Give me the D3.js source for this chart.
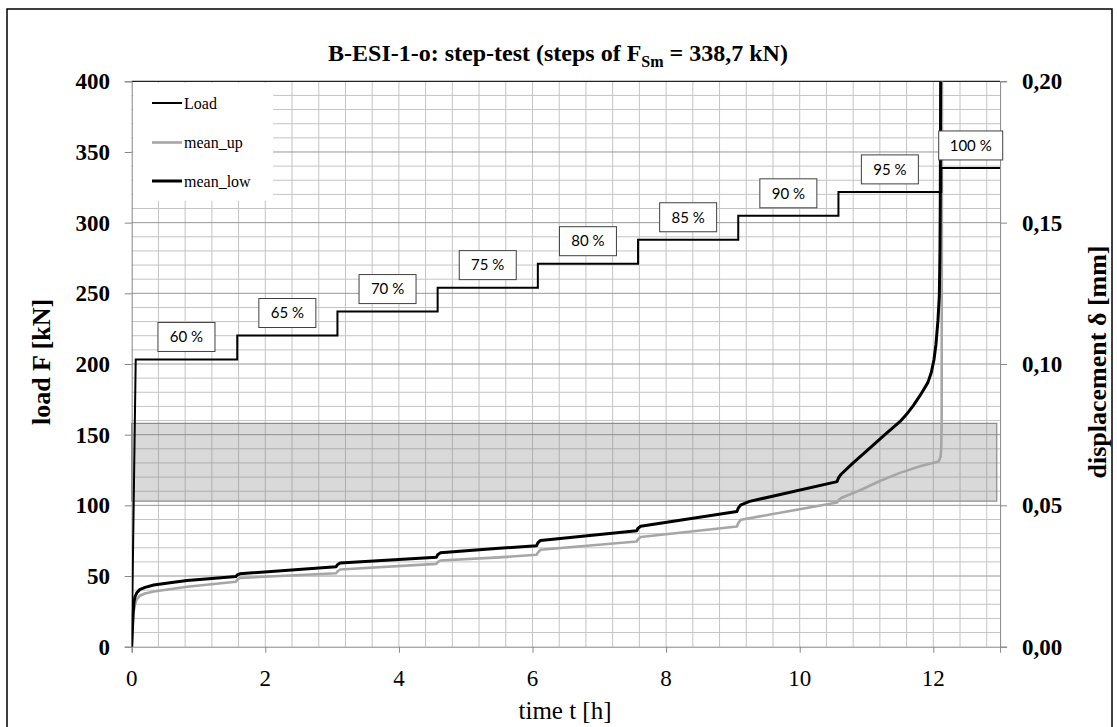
<!DOCTYPE html>
<html>
<head>
<meta charset="utf-8">
<script src="https://cdn.jsdelivr.net/npm/d3@7"></script>
<style>
body { margin: 0; background: #fff; }
svg { display: block; }
</style>
</head>
<body>
<svg id="chart" width="1117" height="727"></svg>
<script>
// load steps in % of F_Sm, and the time [h] at which each step starts
var FSm = 338.7;
var stepPercent = [60, 65, 70, 75, 80, 85, 90, 95, 100];
var stepStart = [0.06, 1.58, 3.08, 4.58, 6.08, 7.58, 9.08, 10.58, 12.12];

// displacement mean_low [mm] over time [h]
var lowTime = [0, 0.01, 0.02, 0.035, 0.05, 0.08, 0.12, 0.20, 0.33, 0.60, 0.83, 1.20, 1.56, 1.58, 1.62,
    3.06, 3.08, 3.12, 4.56, 4.58, 4.62, 5.50, 6.06, 6.08, 6.12,
    7.56, 7.58, 7.62, 9.06, 9.08, 9.12, 9.25, 10.56, 10.58, 10.62,
    10.80, 11.02, 11.25, 11.50, 11.60, 11.70, 11.80, 11.87, 11.92, 11.97, 12.01, 12.04, 12.07, 12.09, 12.10, 12.105, 12.11];
var lowDisp = [0, 0.0060, 0.0115, 0.0160, 0.0177, 0.0192, 0.0202, 0.0210, 0.0218, 0.0227, 0.0234, 0.0241, 0.0248, 0.0254, 0.0258,
    0.0283, 0.0290, 0.0296, 0.0316, 0.0325, 0.0332, 0.0348, 0.0357, 0.0367, 0.0376,
    0.0410, 0.0419, 0.0426, 0.0478, 0.0490, 0.0502, 0.0514, 0.0584, 0.0597, 0.0610,
    0.0650, 0.0696, 0.0745, 0.0796, 0.0822, 0.0853, 0.0888, 0.0915, 0.0935, 0.0970, 0.1015, 0.1070, 0.1155, 0.1240, 0.1400, 0.1600, 0.2000];

// displacement mean_up [mm] over time [h]
var upTime = [0, 0.015, 0.03, 0.05, 0.07, 0.12, 0.20, 0.33, 0.83, 1.56, 1.58, 1.62,
    3.06, 3.08, 3.12, 4.56, 4.58, 4.62, 5.50, 6.06, 6.08, 6.12,
    7.56, 7.58, 7.62, 9.06, 9.08, 9.12, 10.56, 10.58, 10.62,
    10.92, 11.20, 11.49, 11.80, 12.08, 12.11, 12.12, 12.125, 12.13];
var upDisp = [0, 0.0070, 0.0125, 0.0150, 0.0165, 0.0180, 0.0188, 0.0195, 0.0212, 0.0230, 0.0237, 0.0243,
    0.0260, 0.0266, 0.0273, 0.0293, 0.0299, 0.0305, 0.0316, 0.0325, 0.0333, 0.0343,
    0.0372, 0.0380, 0.0388, 0.0425, 0.0437, 0.0449, 0.0510, 0.0518, 0.0526,
    0.0555, 0.0586, 0.0614, 0.0638, 0.0655, 0.0672, 0.0708, 0.0800, 0.2000];

// grey band on the displacement axis [mm]
var bandDisp = [0.0515, 0.079];

var xTicks = [0, 2, 4, 6, 8, 10, 12];
var loadTicks = [0, 50, 100, 150, 200, 250, 300, 350, 400];
var dispTicks = [0, 0.05, 0.10, 0.15, 0.20];

var plot = { left: 131.7, right: 1000.1, top: 81.3, bottom: 646.7 };

var x = d3.scaleLinear().domain([0, 13]).range([plot.left, plot.right]);
var yLoad = d3.scaleLinear().domain([0, 400]).range([plot.bottom, plot.top]);
var yDisp = d3.scaleLinear().domain([0, 0.2]).range([plot.bottom, plot.top]);

var svg = d3.select("#chart");
var serif = "'Liberation Serif', 'Times New Roman', serif";

// outer frame
svg.append("rect")
    .attr("x", 7).attr("y", 9)
    .attr("width", 1105).attr("height", 730)
    .attr("fill", "none")
    .attr("stroke", "#000")
    .attr("stroke-width", 1.5);

// title
var title = svg.append("text")
    .attr("x", 558).attr("y", 61)
    .attr("text-anchor", "middle")
    .style("font-family", serif)
    .style("font-weight", "bold")
    .style("font-size", "24px");
title.append("tspan").text("B-ESI-1-o: step-test (steps of F");
title.append("tspan").attr("dy", 6).style("font-size", "16px").text("Sm");
title.append("tspan").attr("dy", -6).text(" = 338,7 kN)");

// grid
var grid = svg.append("g");
grid.selectAll(".vgrid")
    .data(d3.range(1, 33).map(function(i) { return i * 0.4; }))
    .enter().append("line")
    .attr("x1", function(d) { return x(d); })
    .attr("x2", function(d) { return x(d); })
    .attr("y1", plot.top).attr("y2", plot.bottom)
    .attr("stroke", "#c4c4c4");

grid.selectAll(".hgrid")
    .data(d3.range(1, 40).map(function(i) { return i * 10; }))
    .enter().append("line")
    .attr("x1", plot.left).attr("x2", plot.right)
    .attr("y1", function(d) { return yLoad(d); })
    .attr("y2", function(d) { return yLoad(d); })
    .attr("stroke", function(d) { return d % 50 === 0 ? "#979797" : "#c4c4c4"; });

// top edge
svg.append("line")
    .attr("x1", plot.left).attr("x2", plot.right)
    .attr("y1", plot.top).attr("y2", plot.top)
    .attr("stroke", "#222").attr("stroke-width", 1.2);

// grey band
svg.append("rect")
    .attr("x", plot.left)
    .attr("y", yDisp(bandDisp[1]))
    .attr("width", x(12.95) - plot.left)
    .attr("height", yDisp(bandDisp[0]) - yDisp(bandDisp[1]))
    .attr("fill", "rgba(120,120,120,0.28)")
    .attr("stroke", "#8a8a8a")
    .attr("stroke-width", 1.2);

// axes
var xAxis = d3.axisBottom(x).tickValues(xTicks).tickSize(6).tickFormat("");
var yAxis = d3.axisLeft(yLoad).tickValues(loadTicks).tickSize(7).tickFormat("");
var y2Axis = d3.axisRight(yDisp).tickValues(dispTicks).tickSize(7).tickFormat("");

svg.append("g").attr("transform", "translate(0," + plot.bottom + ")").call(xAxis);
svg.append("g").attr("transform", "translate(" + plot.left + ",0)").call(yAxis);
svg.append("g").attr("transform", "translate(" + plot.right + ",0)").call(y2Axis);
svg.selectAll(".domain, .tick line").attr("stroke", "#868686");

// tick labels
svg.selectAll(".xlab")
    .data(xTicks).enter().append("text")
    .attr("x", function(d) { return x(d); })
    .attr("y", 686)
    .attr("text-anchor", "middle")
    .style("font-family", serif)
    .style("font-size", "23px")
    .text(function(d) { return d; });

svg.selectAll(".ylab")
    .data(loadTicks).enter().append("text")
    .attr("x", 110)
    .attr("y", function(d) { return yLoad(d); })
    .attr("dy", "0.35em")
    .attr("text-anchor", "end")
    .style("font-family", serif)
    .style("font-weight", "bold")
    .style("font-size", "23px")
    .text(function(d) { return d; });

svg.selectAll(".y2lab")
    .data(dispTicks).enter().append("text")
    .attr("x", 1022)
    .attr("y", function(d) { return yDisp(d); })
    .attr("dy", "0.35em")
    .style("font-family", serif)
    .style("font-weight", "bold")
    .style("font-size", "23px")
    .text(function(d) { return d3.format(".2f")(d).replace(".", ","); });

// axis titles
svg.append("text")
    .attr("transform", "translate(565,719)")
    .attr("text-anchor", "middle")
    .style("font-family", serif)
    .style("font-size", "25px")
    .text("time t [h]");

svg.append("text")
    .attr("transform", "translate(50,362) rotate(-90)")
    .attr("text-anchor", "middle")
    .style("font-family", serif)
    .style("font-weight", "bold")
    .style("font-size", "26px")
    .text("load F [kN]");

svg.append("text")
    .attr("transform", "translate(1106,362) rotate(-90)")
    .attr("text-anchor", "middle")
    .style("font-family", serif)
    .style("font-weight", "bold")
    .style("font-size", "26px")
    .text("displacement \u03b4 [mm]");

// clip curves to the plot area
svg.append("clipPath").attr("id", "plotclip")
    .append("rect")
    .attr("x", plot.left).attr("y", plot.top)
    .attr("width", plot.right - plot.left)
    .attr("height", plot.bottom - plot.top);

var curves = svg.append("g").attr("clip-path", "url(#plotclip)");

// load: step function built from the step table
var loadPts = [[0, 0]];
stepPercent.forEach(function(p, i) {
    var F = FSm * p / 100;
    if (i > 0) loadPts.push([stepStart[i], FSm * stepPercent[i - 1] / 100]);
    loadPts.push([stepStart[i], F]);
});
loadPts.push([13, FSm]);

var loadLine = d3.line()
    .x(function(d) { return x(d[0]); })
    .y(function(d) { return yLoad(d[1]); });

var dispLine = d3.line()
    .x(function(d) { return x(d[0]); })
    .y(function(d) { return yDisp(d[1]); });

curves.append("path")
    .datum(d3.zip(upTime, upDisp))
    .attr("d", dispLine)
    .attr("fill", "none")
    .attr("stroke", "#a6a6a6")
    .attr("stroke-width", 2.6)
    .attr("stroke-linejoin", "round");

curves.append("path")
    .datum(loadPts)
    .attr("d", loadLine)
    .attr("fill", "none")
    .attr("stroke", "#000")
    .attr("stroke-width", 2);

curves.append("path")
    .datum(d3.zip(lowTime, lowDisp))
    .attr("d", dispLine)
    .attr("fill", "none")
    .attr("stroke", "#000")
    .attr("stroke-width", 3)
    .attr("stroke-linejoin", "round");

// step labels
var labels = svg.selectAll(".steplab")
    .data(stepPercent).enter().append("g")
    .attr("transform", function(p, i) {
        var t0 = stepStart[i];
        var t1 = i < stepStart.length - 1 ? stepStart[i + 1] : 13;
        return "translate(" + x((t0 + t1) / 2) + "," + (yLoad(FSm * p / 100) - 8) + ")";
    });

labels.append("rect")
    .attr("x", function(p) { return p === 100 ? -32 : -28.5; })
    .attr("y", -29)
    .attr("width", function(p) { return p === 100 ? 64 : 57; })
    .attr("height", 29)
    .attr("fill", "#fff")
    .attr("stroke", "#404040");

labels.append("text")
    .attr("y", -14.5)
    .attr("dy", "0.35em")
    .attr("text-anchor", "middle")
    .style("font-family", "Lato, 'Open Sans', sans-serif")
    .style("font-size", "15px")
    .text(function(p) { return p + " %"; });

// legend
var legendItems = ["Load", "mean_up", "mean_low"];
var legendColor = ["#000", "#a6a6a6", "#000"];
var legendWidth = [2, 2.6, 3];

var legend = svg.append("g");
legend.append("rect")
    .attr("x", plot.left + 1.5).attr("y", plot.top + 1.5)
    .attr("width", 140).attr("height", 118)
    .attr("fill", "#fff");

var items = legend.selectAll(".leg")
    .data(legendItems).enter().append("g")
    .attr("transform", function(d, i) { return "translate(152," + [103, 142.5, 181][i] + ")"; });

items.append("line")
    .attr("x1", 0).attr("x2", 30)
    .attr("stroke", function(d, i) { return legendColor[i]; })
    .attr("stroke-width", function(d, i) { return legendWidth[i]; });

items.append("text")
    .attr("x", 32)
    .attr("dy", "0.35em")
    .style("font-family", serif)
    .style("font-size", "16px")
    .text(function(d) { return d; });
</script>
</body>
</html>
